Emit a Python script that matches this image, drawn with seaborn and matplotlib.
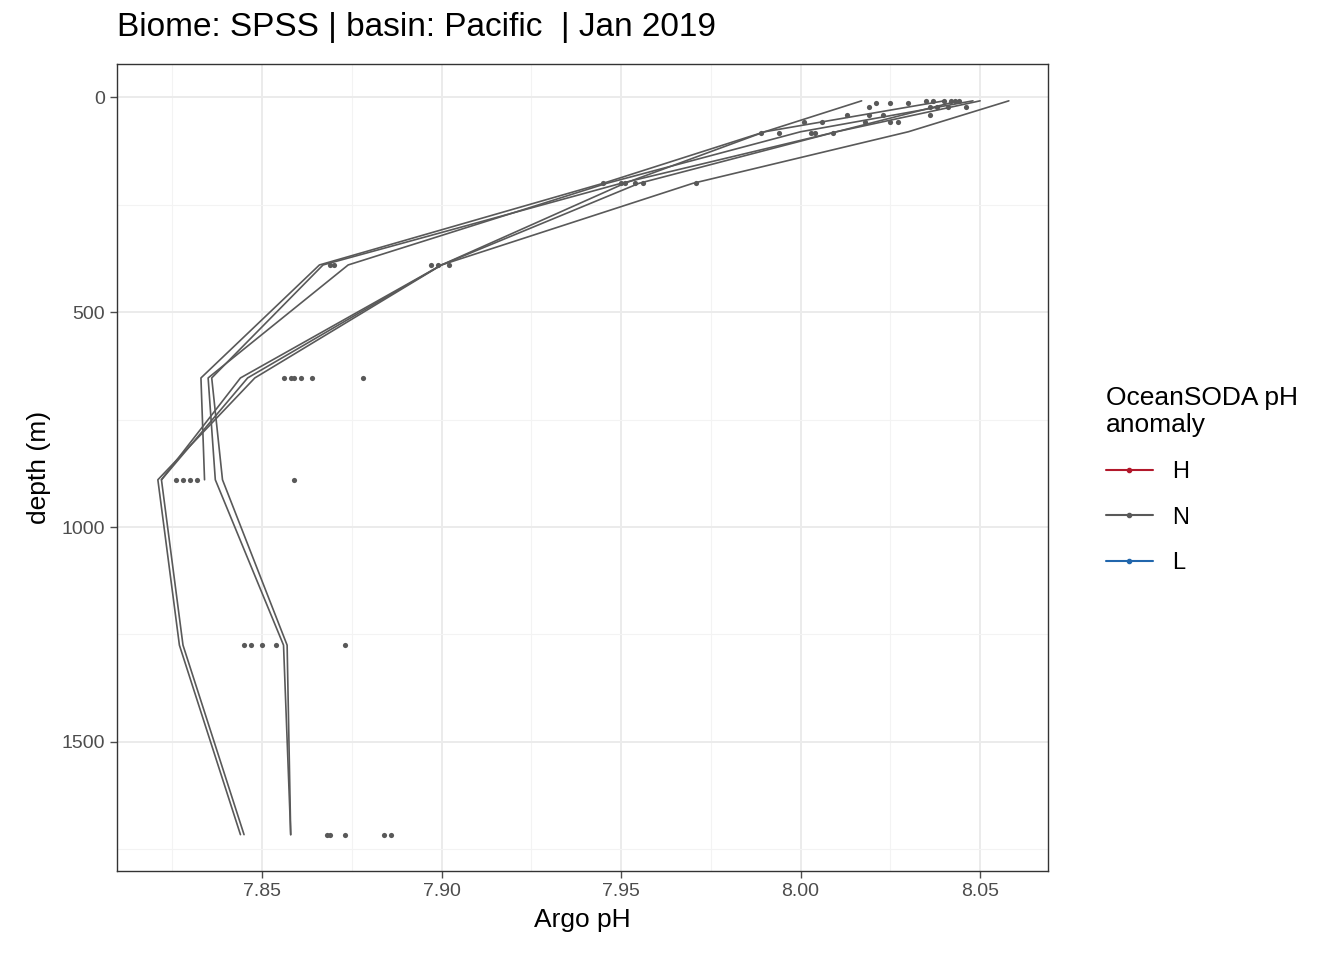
import numpy as np
import pandas as pd
import seaborn as sns
import matplotlib.pyplot as plt
from matplotlib.lines import Line2D

# profile depths (m)
depths = [8, 80, 200, 390, 653, 890, 1275, 1716]
# model profiles of pH
prof1 = [8.017, 7.990, 7.945, 7.866, 7.833, 7.834, np.nan, np.nan]
prof2 = [8.048, 8.000, 7.946, 7.874, 7.835, 7.837, 7.856, 7.858]
prof3 = [8.058, 8.030, 7.970, 7.900, 7.844, 7.822, 7.828, 7.845]
prof4 = [8.044, 8.010, 7.955, 7.900, 7.848, 7.821, 7.827, 7.844]
prof5 = [8.040, 7.990, 7.951, 7.900, 7.846, 7.822, np.nan, np.nan]
prof6 = [8.050, 8.010, 7.950, 7.867, 7.836, 7.839, 7.857, 7.858]

# argo observations
obs_ph = [8.035, 8.037, 8.040, 8.042, 8.043, 8.044, 8.030, 8.025, 8.021,
          8.019, 8.036, 8.041, 8.046, 8.038, 8.013, 8.019, 8.023, 8.036,
          8.018, 8.025, 8.027, 8.001, 8.006,
          7.989, 7.994, 8.003, 8.004, 8.009,
          7.945, 7.950, 7.951, 7.954, 7.956, 7.971,
          7.869, 7.870, 7.897, 7.899, 7.902,
          7.856, 7.858, 7.859, 7.861, 7.864, 7.878,
          7.826, 7.828, 7.830, 7.832, 7.859,
          7.845, 7.847, 7.850, 7.854, 7.873,
          7.868, 7.869, 7.873, 7.884, 7.886]
obs_depth = [8, 8, 8, 8, 8, 8, 14, 14, 14,
             22, 22, 22, 22, 22, 40, 40, 40, 40,
             58, 58, 58, 58, 58,
             84, 84, 84, 84, 84,
             200, 200, 200, 200, 200, 200,
             390, 390, 390, 390, 390,
             653, 653, 653, 653, 653, 653,
             890, 890, 890, 890, 890,
             1275, 1275, 1275, 1275, 1275,
             1716, 1716, 1716, 1716, 1716]

profs = [prof1, prof2, prof3, prof4, prof5, prof6]
df = pd.concat([pd.DataFrame({'ph': p, 'depth': depths, 'prof': i})
                for i, p in enumerate(profs)]).dropna()
obs = pd.DataFrame({'ph': obs_ph, 'depth': obs_depth})

sns.set_theme(style='whitegrid')
plt.rcParams['font.family'] = ['Liberation Sans', 'DejaVu Sans']
fig = plt.figure(figsize=(13.44, 9.6), dpi=100)
ax = fig.add_axes([0.087, 0.093, 0.693, 0.84])
grey = '#595959'
sns.lineplot(data=df, x='ph', y='depth', units='prof', estimator=None,
             sort=False, color=grey, lw=1.2, ax=ax)
sns.scatterplot(data=obs, x='ph', y='depth', color=grey, s=14,
                linewidth=0, ax=ax)

ax.set_xlim(7.8096, 8.069)
ax.set_ylim(1800, -77)
ax.set_xticks([7.85, 7.90, 7.95, 8.00, 8.05])
ax.set_xticks([7.825, 7.875, 7.925, 7.975, 8.025], minor=True)
ax.set_yticks([0, 500, 1000, 1500])
ax.set_yticks([250, 750, 1250, 1750], minor=True)
ax.grid(True, which='major', color='#EBEBEB', lw=1.4)
ax.grid(True, which='minor', color='#F3F3F3', lw=0.8)
for s in ax.spines.values():
    s.set_color('#333333')
    s.set_linewidth(1)
ax.tick_params(axis='both', which='major', labelsize=14, colors='#4D4D4D',
               length=5, width=1, direction='out', left=True, bottom=True)
ax.tick_params(which='minor', length=0)
ax.set_xlabel('Argo pH', fontsize=19, color='black', labelpad=6)
ax.set_ylabel('depth (m)', fontsize=19, color='black', labelpad=8)
fig.text(0.087, 0.955, 'Biome: SPSS | basin: Pacific  | Jan 2019',
         fontsize=24, va='bottom', color='black')

handles = [Line2D([], [], color=c, marker='o', ms=3, lw=1.5)
           for c in ['#B2182B', grey, '#2166AC']]
leg = fig.legend(handles, ['H', 'N', 'L'], title='OceanSODA pH\nanomaly',
                 loc='center left', bbox_to_anchor=(0.807, 0.5), frameon=False,
                 fontsize=17, title_fontsize=19, handlelength=2.0,
                 labelspacing=1.0)
leg._legend_box.align = 'left'
leg.get_title().set_color('black')
for t in leg.get_texts():
    t.set_color('black')

fig.savefig('out.png', dpi=100)
